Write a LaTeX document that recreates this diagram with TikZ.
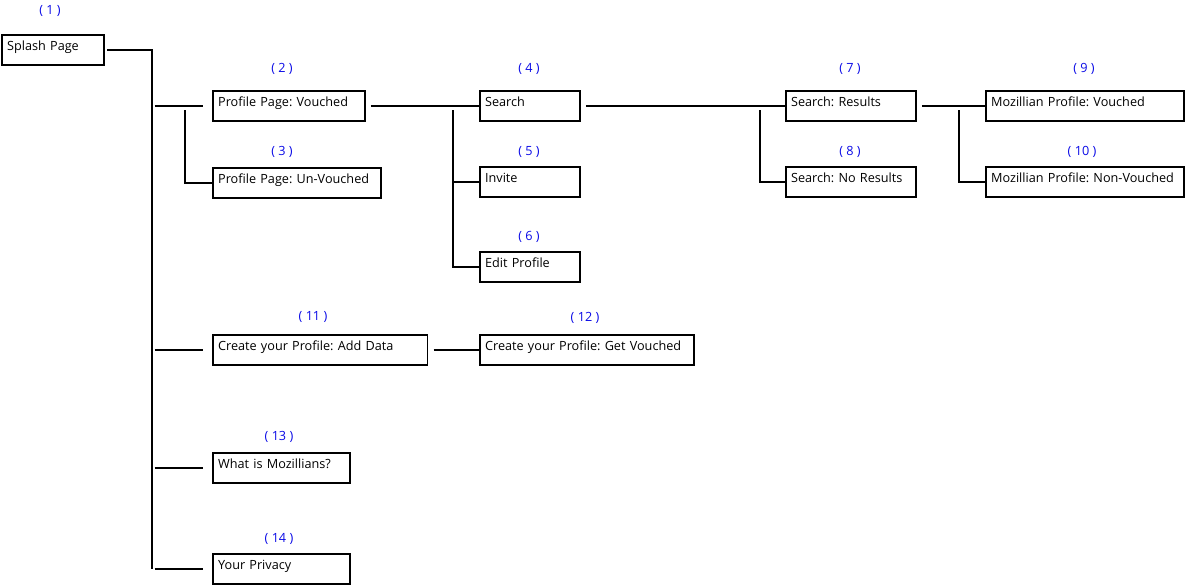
\documentclass[tikz,border=0pt]{standalone}
\usepackage{fontspec}
\setmainfont{Open Sans}
\usetikzlibrary{positioning}

\definecolor{numblue}{RGB}{10,10,230}

\tikzset{
  page/.style={draw, line width=1.2pt, anchor=north west, align=left,
    inner xsep=4pt, inner ysep=0pt, text height=12pt, text depth=10.5pt,
    font=\fontsize{9.5}{11}\selectfont\frenchspacing, text width=#1},
  num/.style={text=numblue, font=\fontsize{9.5}{11}\selectfont},
  link/.style={line width=1.1pt}
}

\begin{document}
\begin{tikzpicture}[x=0.75pt, y=-0.75pt]

\useasboundingbox (0,0) rectangle (1186,586);

% -------- pages -----------
\node[page=68.5pt]  (splash)     at (1,34)    {Splash Page};
\node[page=106pt]   (vouch)      at (212,90)  {Profile Page: Vouched};
\node[page=118pt]   (unvouch)    at (212,167) {Profile Page: Un-Vouched};
\node[page=67pt]    (search)     at (479,90)  {Search};
\node[page=67pt]    (invite)     at (479,166) {Invite};
\node[page=67pt]    (edit)       at (479,251) {Edit Profile};
\node[page=89.5pt]  (results)    at (785,90)  {Search: Results};
\node[page=89.5pt]  (noresults)  at (785,166) {Search: No Results};
\node[page=140.5pt] (mozv)       at (985,90)  {Mozillian Profile: Vouched};
\node[page=140.5pt] (moznv)      at (985,166) {Mozillian Profile: Non-Vouched};
\node[page=153pt]   (adddata)    at (212,334) {Create your Profile: Add Data};
\node[page=152.5pt] (getvouched) at (479,334) {Create your Profile: Get Vouched};
\node[page=94.75pt] (whatis)     at (212,452) {What is Mozillians?};
\node[page=94.75pt] (privacy)    at (212,553) {Your Privacy};

% -------- numbers -----------
\foreach \i/\x/\y in {1/50/11, 2/282/69, 3/282/152, 4/529/69, 5/529/152,
    6/529/237, 7/850/69, 8/850/152, 9/1084/69, 10/1082/152,
    11/313/317, 12/585/318, 13/279/437, 14/279/539}
  \node[num] (num\i) at (\x,\y) {( \i\ )};

% -------- junctions -----------
\coordinate (trunk) at (152,47);
\coordinate (jvouch) at (185,105);
\coordinate (jsearch) at (453,105);
\coordinate (jresults) at (760,105);
\coordinate (jmoz) at (959,105);

% -------- connectors -----------
\draw[link] ([xshift=2pt]splash.east) -- (splash.east -| trunk) -- (trunk |- privacy.west);
\foreach \p in {vouch, adddata, whatis, privacy}
  \draw[link] ([xshift=2pt]trunk |- \p.west) -- ([xshift=-7pt]\p.west);

\draw[link] ([yshift=-4pt]jvouch) -- (jvouch |- unvouch.west) -- (unvouch.west);
\draw[link] ([xshift=4pt]vouch.east) -- (search.west);

\draw[link] ([yshift=-4pt]jsearch) -- (jsearch |- edit.west) -- (edit.west);
\draw[link] (jsearch |- invite.west) -- (invite.west);
\draw[link] ([xshift=4pt]search.east) -- (results.west);

\draw[link] ([yshift=-4pt]jresults) -- (jresults |- noresults.west) -- (noresults.west);
\draw[link] ([xshift=4pt]results.east) -- (mozv.west);

\draw[link] ([yshift=-4pt]jmoz) -- (jmoz |- moznv.west) -- (moznv.west);

\draw[link] ([xshift=4pt]adddata.east) -- (getvouched.west);

\end{tikzpicture}
\end{document}
